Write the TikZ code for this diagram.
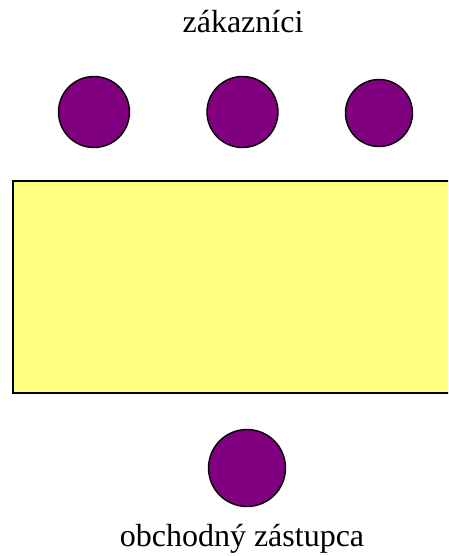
\documentclass[tikz,border=0pt]{standalone}
\usepackage{fontspec}
\setmainfont{Liberation Serif}
\definecolor{dotpurple}{RGB}{128,0,128}
\definecolor{tableyellow}{RGB}{255,255,128}
\tikzset{
  person/.style={circle, draw=black, line width=1.4pt, fill=dotpurple, inner sep=0pt},
  tablebox/.style={draw=black, line width=1.6pt, fill=tableyellow},
  lbl/.style={font=\fontsize{32}{36}\selectfont, inner sep=0pt, anchor=base}
}
\begin{document}
\begin{tikzpicture}[x=1pt,y=-1pt]
\useasboundingbox (0,0) rectangle (448,556);
\clip (0,0) rectangle (448,556);
\node[lbl] (top) at (243,33) {zákazníci};
\node[person, minimum size=71pt] (c1) at (94,112) {};
\node[person, minimum size=71pt] (c2) at (242.5,112) {};
\node[person, minimum size=67pt] (c3) at (379,113) {};
\draw[tablebox] (13,181) rectangle (460,393);
\node[person, minimum size=77pt] (rep) at (247,468) {};
\node[lbl] (bottom) at (242,546) {obchodný zástupca};
\end{tikzpicture}
\end{document}
